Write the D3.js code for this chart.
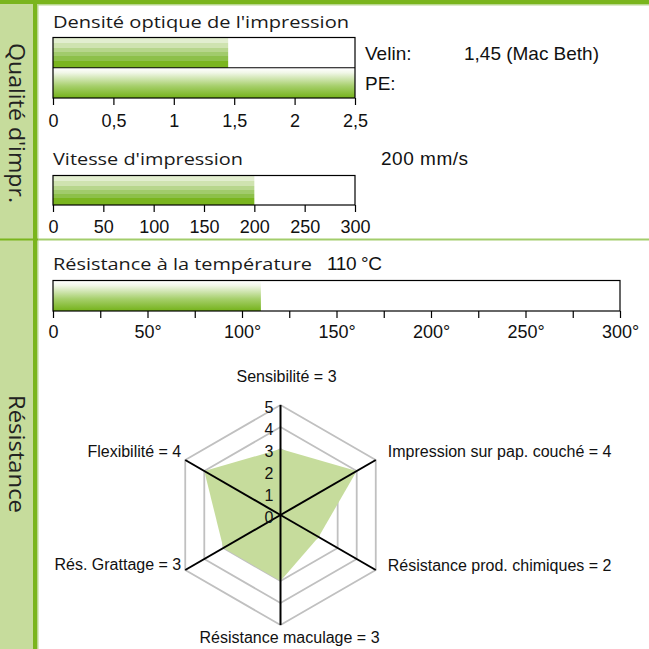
<!DOCTYPE html>
<html>
<head>
<meta charset="utf-8">
<script src="https://cdn.jsdelivr.net/npm/d3@7"></script>
<style>
  body { margin: 0; background: #fff; }
  svg { display: block; }
</style>
</head>
<body>
<div id="chart"></div>
<script>
// ---- data ----
const sectionNames = ["Qualité d'impr.", "Résistance"];

const densityRows = ["Velin", "PE"];
const densityValues = [1.45, 2.5];
const densityNotes = ["1,45 (Mac Beth)", ""];
const densityTicks = [0, 0.5, 1, 1.5, 2, 2.5];

const speedRows = ["Vitesse"];
const speedValues = [200];
const speedNote = "200 mm/s";
const speedTicks = [0, 50, 100, 150, 200, 250, 300];

const tempRows = ["Température"];
const tempValues = [110];
const tempNote = "110 °C";
const tempTicks = [0, 50, 100, 150, 200, 250, 300];
const tempMinorTicks = [25, 75, 125, 175, 225, 275];

const radarAxes = ["Sensibilité", "Impression sur pap. couché", "Résistance prod. chimiques",
  "Résistance maculage", "Rés. Grattage", "Flexibilité"];
const radarValues = [3, 4, 2, 3, 3, 4];
const radarLevels = [0, 1, 2, 3, 4, 5];

// ---- setup ----
const W = 649, H = 649;
const green = "#7ab51d", lightGreen = "#c6dc9c";
const arial = "'Liberation Sans', Arial, sans-serif";
const titleFont = "'Open Sans', 'DejaVu Sans', sans-serif";

const svg = d3.select("#chart").append("svg").attr("width", W).attr("height", H);
const defs = svg.append("defs");

// stepped gradient (Velin / vitesse bars)
const steps = ["#e2eecf", "#cfe3b0", "#b7d68c", "#a1cb6c", "#8dc04a", "#7ab51f"];
const stepEdges = [0, 0.18, 0.33, 0.48, 0.62, 0.76, 1];
const stepped = defs.append("linearGradient").attr("id", "stepped")
  .attr("x1", 0).attr("y1", 0).attr("x2", 0).attr("y2", 1);
steps.forEach((c, i) => {
  stepped.append("stop").attr("offset", stepEdges[i]).attr("stop-color", c);
  stepped.append("stop").attr("offset", stepEdges[i + 1]).attr("stop-color", c);
});
// smooth gradient (PE / temperature bars)
const smooth = defs.append("linearGradient").attr("id", "smooth")
  .attr("x1", 0).attr("y1", 0).attr("x2", 0).attr("y2", 1);
smooth.append("stop").attr("offset", 0).attr("stop-color", "#ffffff");
smooth.append("stop").attr("offset", 0.15).attr("stop-color", "#f1f7e8");
smooth.append("stop").attr("offset", 0.6).attr("stop-color", "#a6cf6b");
smooth.append("stop").attr("offset", 1).attr("stop-color", "#74b21a");

// ---- frame ----
svg.append("rect").attr("x", 0).attr("y", 0).attr("width", 33).attr("height", H).attr("fill", lightGreen);
svg.append("rect").attr("x", 33).attr("y", 0).attr("width", 4).attr("height", H).attr("fill", green);
svg.append("rect").attr("x", 37).attr("y", 0).attr("width", 1.5).attr("height", H).attr("fill", "#b9d78f");
svg.append("rect").attr("x", 0).attr("y", 0).attr("width", W).attr("height", 4).attr("fill", green);
svg.append("rect").attr("x", 38).attr("y", 4).attr("width", W).attr("height", 1.5).attr("fill", "#b9d78f");
svg.append("rect").attr("x", 0).attr("y", 238.5).attr("width", 38).attr("height", 2).attr("fill", green);
svg.append("rect").attr("x", 38).attr("y", 238.5).attr("width", W).attr("height", 2).attr("fill", "#a3cd6c");

const sectionPos = [{ y: 123, len: 160 }, { y: 454, len: 118 }];
sectionNames.forEach((name, i) => {
  svg.append("text")
    .attr("transform", `translate(9,${sectionPos[i].y}) rotate(90)`)
    .attr("text-anchor", "middle")
    .attr("font-family", titleFont)
    .attr("font-size", 21)
    .attr("textLength", sectionPos[i].len)
    .attr("lengthAdjust", "spacingAndGlyphs")
    .attr("fill", "#222")
    .text(name);
});

// ---- bar charts ----
function fmt(d) { return String(d).replace(".", ","); }

function barChart(opt) {
  const g = svg.append("g");
  const x = d3.scaleLinear().domain(opt.domain).range([opt.x0, opt.x1]);
  const y = d3.scaleBand().domain(opt.rows).range([opt.y0, opt.y1]);

  g.append("text").attr("x", opt.x0).attr("y", opt.titleY)
    .attr("font-family", titleFont).attr("font-size", 17)
    .attr("textLength", opt.titleLen).attr("lengthAdjust", "spacingAndGlyphs")
    .attr("fill", "#1a1a1a").text(opt.title);

  g.selectAll(".bar").data(opt.values).join("rect")
    .attr("class", "bar")
    .attr("x", x(opt.domain[0]))
    .attr("y", (d, i) => y(opt.rows[i]) + 0.5)
    .attr("width", d => x(d) - x(opt.domain[0]))
    .attr("height", y.bandwidth() - 0.5)
    .attr("fill", (d, i) => `url(#${opt.fills[i]})`);

  // box + row dividers
  g.append("rect").attr("x", opt.x0).attr("y", opt.y0)
    .attr("width", opt.x1 - opt.x0).attr("height", opt.y1 - opt.y0)
    .attr("fill", "none").attr("stroke", "#000").attr("stroke-width", 1.2);
  g.selectAll(".div").data(opt.rows.slice(1)).join("line")
    .attr("x1", opt.x0).attr("x2", opt.x1)
    .attr("y1", d => y(d)).attr("y2", d => y(d))
    .attr("stroke", "#000").attr("stroke-width", 1.2);

  const axis = g.append("g").attr("transform", `translate(0,${opt.y1})`)
    .call(d3.axisBottom(x).tickValues(opt.ticks).tickSize(7).tickPadding(opt.pad)
      .tickFormat(opt.format));
  axis.select(".domain").remove();
  axis.selectAll("line").attr("stroke", "#000").attr("stroke-width", 1.2);
  axis.selectAll("text").attr("font-family", arial).attr("font-size", 18).attr("fill", "#111");

  if (opt.minor) {
    g.append("g").attr("transform", `translate(0,${opt.y1})`)
      .call(d3.axisBottom(x).tickValues(opt.minor).tickSize(7).tickFormat(""))
      .call(a => a.select(".domain").remove())
      .selectAll("line").attr("stroke", "#000").attr("stroke-width", 1.2);
  }
  return { g, x, y };
}

const dens = barChart({
  title: "Densité optique de l'impression", titleLen: 296, titleY: 28,
  x0: 53, x1: 355, y0: 37.5, y1: 98, rows: densityRows, values: densityValues,
  fills: ["stepped", "smooth"], domain: [0, 2.5], ticks: densityTicks, pad: 9, format: fmt
});
densityRows.forEach((r, i) => {
  const yy = dens.y(r) + dens.y.bandwidth() / 2 + 7;
  svg.append("text").attr("x", 365).attr("y", yy).attr("font-family", arial)
    .attr("font-size", 19).attr("fill", "#111").text(r + ":");
  if (densityNotes[i]) {
    svg.append("text").attr("x", 464).attr("y", yy).attr("font-family", arial)
      .attr("font-size", 19).attr("textLength", 135).attr("fill", "#111").text(densityNotes[i]);
  }
});

barChart({
  title: "Vitesse d'impression", titleLen: 190, titleY: 165,
  x0: 53, x1: 355, y0: 175.5, y1: 205, rows: speedRows, values: speedValues,
  fills: ["stepped"], domain: [0, 300], ticks: speedTicks, pad: 8, format: d => d
});
svg.append("text").attr("x", 381).attr("y", 165).attr("font-family", arial)
  .attr("font-size", 19).attr("textLength", 87).attr("fill", "#111").text(speedNote);

barChart({
  title: "Résistance à la température", titleLen: 259, titleY: 270,
  x0: 53, x1: 620, y0: 280.5, y1: 311, rows: tempRows, values: tempValues,
  fills: ["smooth"], domain: [0, 300], ticks: tempTicks, minor: tempMinorTicks, pad: 7,
  format: d => d === 0 ? "0" : d + "°"
});
svg.append("text").attr("x", 327).attr("y", 270).attr("font-family", arial)
  .attr("font-size", 19).attr("textLength", 55).attr("fill", "#111").text(tempNote);

// ---- radar ----
const cx = 280.5, cy = 515;
const r = d3.scaleLinear().domain([0, 5]).range([0, 110]);
const ang = i => i * 2 * Math.PI / radarAxes.length;
const pt = (i, v) => [cx + r(v) * Math.sin(ang(i)), cy - r(v) * Math.cos(ang(i))];
const radar = svg.append("g");
const line = d3.line();

radar.selectAll(".grid").data(radarLevels.slice(1)).join("path")
  .attr("d", lv => line(radarAxes.map((a, i) => pt(i, lv))) + "Z")
  .attr("fill", "none").attr("stroke", "#c0c0c0").attr("stroke-width", 1.8);

radar.append("path")
  .attr("d", line(radarValues.map((v, i) => pt(i, v))) + "Z")
  .attr("fill", lightGreen);

radar.selectAll(".axis").data(radarAxes).join("line")
  .attr("x1", cx).attr("y1", cy)
  .attr("x2", (d, i) => pt(i, 5)[0]).attr("y2", (d, i) => pt(i, 5)[1])
  .attr("stroke", "#000").attr("stroke-width", 2);

radar.selectAll(".lvl").data(radarLevels).join("text")
  .attr("x", cx - 7).attr("y", lv => cy - r(lv) + 8)
  .attr("text-anchor", "end").attr("font-family", arial).attr("font-size", 16)
  .attr("fill", "#111").text(lv => lv);

// label offsets relative to each axis end
const labelOff = [[6, -23], [12, -3], [12, 1], [9, 18], [-4, 0], [-4, -3]];
const anchors = ["middle", "start", "start", "middle", "end", "end"];
radar.selectAll(".lab").data(radarAxes).join("text")
  .attr("x", (d, i) => pt(i, 5)[0] + labelOff[i][0])
  .attr("y", (d, i) => pt(i, 5)[1] + labelOff[i][1])
  .attr("text-anchor", (d, i) => anchors[i])
  .attr("font-family", arial).attr("font-size", 16).attr("fill", "#111")
  .text((d, i) => `${d} = ${radarValues[i]}`);
</script>
</body>
</html>
